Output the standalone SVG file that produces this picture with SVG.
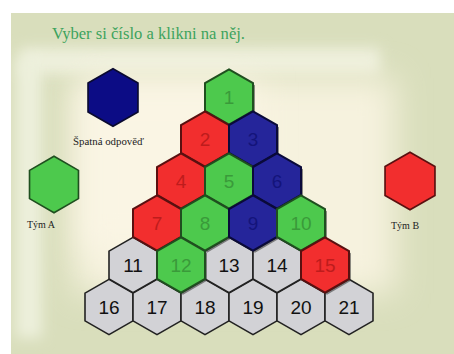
<svg xmlns="http://www.w3.org/2000/svg" width="454" height="354" viewBox="0 0 454 354">
<defs>
<polygon id="hx" points="0,-27.7 24,-13.85 24,13.85 0,27.7 -24,13.85 -24,-13.85"/>
<filter id="bl" filterUnits="userSpaceOnUse" x="0" y="0" width="454" height="354"><feGaussianBlur stdDeviation="16"/></filter>
<filter id="bl2" filterUnits="userSpaceOnUse" x="0" y="0" width="454" height="354"><feGaussianBlur stdDeviation="7"/></filter>
<clipPath id="bgclip"><rect x="11" y="13" width="443" height="341"/></clipPath>
<style>
.num{font-family:"Liberation Sans",Arial,sans-serif;font-size:19px;text-anchor:middle;dominant-baseline:central}
.lbl{font-family:"Liberation Serif","Times New Roman",serif;font-size:10px;fill:#222}
.g use{fill:#4DC94D;stroke:#1F4F1F;stroke-width:2}
.g text{fill:#3A9A3A}
.r use{fill:#F22E2E;stroke:#5A1010;stroke-width:2}
.r text{fill:#BE1C1C}
.b use{fill:#25259A;stroke:#0A0A3A;stroke-width:2}
.b text{fill:#14147A}
.y use{fill:#D2D2D6;stroke:#222;stroke-width:1.6}
.y text{fill:#111}
.sh{fill:#333;opacity:0.55}
</style>
</defs>
<rect width="454" height="354" fill="#ffffff"/>
<g id="background" clip-path="url(#bgclip)">
<rect x="11" y="13" width="443" height="341" fill="#D9DEBC"/>
<rect x="20" y="48" width="360" height="26" fill="#EEF0DD" filter="url(#bl2)"/>
<rect x="16" y="58" width="26" height="280" fill="#EDF0DC" filter="url(#bl2)"/>
<rect x="75" y="78" width="320" height="215" fill="#F6F2DE" filter="url(#bl)"/>
<rect x="80" y="82" width="180" height="170" fill="#FAF5E4" filter="url(#bl)"/>
</g>
<text x="52" y="39" font-family="'Liberation Serif','Times New Roman',serif" font-size="16" fill="#3DA35D" textLength="193" lengthAdjust="spacingAndGlyphs">Vyber si číslo a klikni na něj.</text>
<g id="legend-wrong">
<use href="#hx" transform="translate(113,97.5) scale(1.04)" fill="#0C0C85" stroke="#0A0A30" stroke-width="1.6"/>
<text class="lbl" x="73" y="145" textLength="71" lengthAdjust="spacingAndGlyphs">Špatná odpověď</text>
</g>
<g id="legend-team-a">
<use href="#hx" transform="translate(54,184.5) scale(1.02)" fill="#4DC94D" stroke="#1F4F1F" stroke-width="1.6"/>
<text class="lbl" x="27" y="228">Tým A</text>
</g>
<g id="legend-team-b">
<use href="#hx" transform="translate(410,181) scale(1.04)" fill="#F22E2E" stroke="#5A1010" stroke-width="1.6"/>
<text class="lbl" x="391" y="229">Tým B</text>
</g>
<g id="connectors"/>
<g id="board">
<g id="n16" class="y"><use href="#hx" x="109" y="307"/><text class="num" x="109" y="307">16</text></g>
<g id="n17" class="y"><use href="#hx" x="157" y="307"/><text class="num" x="157" y="307">17</text></g>
<g id="n18" class="y"><use href="#hx" x="205" y="307"/><text class="num" x="205" y="307">18</text></g>
<g id="n19" class="y"><use href="#hx" x="253" y="307"/><text class="num" x="253" y="307">19</text></g>
<g id="n20" class="y"><use href="#hx" x="301" y="307"/><text class="num" x="301" y="307">20</text></g>
<g id="n21" class="y"><use href="#hx" x="349" y="307"/><text class="num" x="349" y="307">21</text></g>
<g id="n11" class="y"><use href="#hx" x="133" y="265"/><text class="num" x="133" y="265">11</text></g>
<g id="n13" class="y"><use href="#hx" x="229" y="265"/><text class="num" x="229" y="265">13</text></g>
<g id="n14" class="y"><use href="#hx" x="277" y="265"/><text class="num" x="277" y="265">14</text></g>
<g id="shadows">
<use class="sh" href="#hx" x="231" y="99"/>
<use class="sh" href="#hx" x="207" y="141"/><use class="sh" href="#hx" x="255" y="141"/>
<use class="sh" href="#hx" x="183" y="183"/><use class="sh" href="#hx" x="231" y="183"/><use class="sh" href="#hx" x="279" y="183"/>
<use class="sh" href="#hx" x="159" y="225"/><use class="sh" href="#hx" x="207" y="225"/><use class="sh" href="#hx" x="255" y="225"/><use class="sh" href="#hx" x="303" y="225"/>
<use class="sh" href="#hx" x="183" y="267"/><use class="sh" href="#hx" x="327" y="267"/>
</g>
<g id="n1" class="g"><use href="#hx" x="229" y="97"/><text class="num" x="229" y="97">1</text></g>
<g id="n2" class="r"><use href="#hx" x="205" y="139"/><text class="num" x="205" y="139">2</text></g>
<g id="n3" class="b"><use href="#hx" x="253" y="139"/><text class="num" x="253" y="139">3</text></g>
<g id="n4" class="r"><use href="#hx" x="181" y="181"/><text class="num" x="181" y="181">4</text></g>
<g id="n5" class="g"><use href="#hx" x="229" y="181"/><text class="num" x="229" y="181">5</text></g>
<g id="n6" class="b"><use href="#hx" x="277" y="181"/><text class="num" x="277" y="181">6</text></g>
<g id="n7" class="r"><use href="#hx" x="157" y="223"/><text class="num" x="157" y="223">7</text></g>
<g id="n8" class="g"><use href="#hx" x="205" y="223"/><text class="num" x="205" y="223">8</text></g>
<g id="n9" class="b"><use href="#hx" x="253" y="223"/><text class="num" x="253" y="223">9</text></g>
<g id="n10" class="g"><use href="#hx" x="301" y="223"/><text class="num" x="301" y="223">10</text></g>
<g id="n12" class="g"><use href="#hx" x="181" y="265"/><text class="num" x="181" y="265">12</text></g>
<g id="n15" class="r"><use href="#hx" x="325" y="265"/><text class="num" x="325" y="265">15</text></g>
</g>
</svg>
